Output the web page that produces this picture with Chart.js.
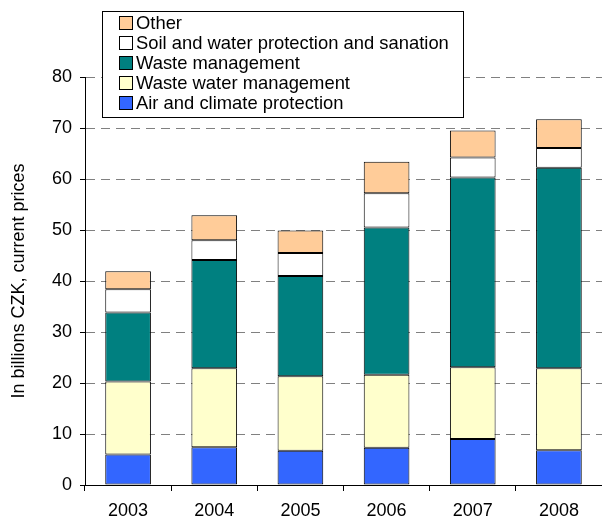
<!DOCTYPE html>
<html>
<head>
<meta charset="utf-8">
<script src="https://cdn.jsdelivr.net/npm/chart.js@4/dist/chart.umd.min.js"></script>
<style>
  html, body { margin: 0; padding: 0; background: #fff; overflow: hidden; }
  #wrap { width: 602px; height: 523px; position: relative; }
</style>
</head>
<body>
<div id="wrap"><canvas id="c"></canvas></div>
<script>
// Environmental protection expenditure by domain, billions CZK (current prices)
const years = ['2003', '2004', '2005', '2006', '2007', '2008'];
const airClimate = [6.0, 7.4, 6.7, 7.3, 9.0, 6.8];
const wasteWater = [14.3, 15.5, 14.6, 14.3, 14.1, 16.1];
const wasteMgmt  = [13.5, 21.2, 19.7, 28.9, 37.2, 39.3];
const soilWater  = [4.6, 3.9, 4.5, 6.7, 3.9, 3.9];
const other      = [3.5, 4.9, 4.4, 6.2, 5.3, 5.6];
const yTicks = [0, 10, 20, 30, 40, 50, 60, 70, 80];

const FONT = '"Liberation Sans", Arial, sans-serif';

// Boxed legend drawn inside the plot, top entry = top of the stack
const boxLegend = {
  id: 'boxLegend',
  afterDraw(chart) {
    const ctx = chart.ctx;
    const x0 = 102, y0 = 11, w = 361, h = 106;
    ctx.save();
    ctx.fillStyle = '#fff';
    ctx.fillRect(x0, y0, w, h);
    ctx.strokeStyle = '#000';
    ctx.lineWidth = 1;
    ctx.strokeRect(x0 + 0.5, y0 + 0.5, w, h);
    ctx.font = '18.4px ' + FONT;
    ctx.textBaseline = 'middle';
    ctx.textAlign = 'left';
    const items = chart.data.datasets.slice().reverse();
    items.forEach((ds, i) => {
      const cy = Math.round(22.5 + i * 20.2);
      ctx.fillStyle = ds.backgroundColor;
      ctx.fillRect(119.5, cy - 6.5, 13, 13);
      ctx.strokeStyle = '#000';
      ctx.strokeRect(119.5, cy - 6.5, 13, 13);
      ctx.fillStyle = '#000';
      ctx.fillText(ds.label, 136, cy + 1);
    });
    ctx.restore();
  }
};

const mk = (label, data, color) => ({
  label, data,
  backgroundColor: color,
  borderColor: '#000',
  borderWidth: 1,
  borderSkipped: false,
  categoryPercentage: 1.0,
  barPercentage: 0.53
});

new Chart(document.getElementById('c'), {
  type: 'bar',
  data: {
    labels: years,
    datasets: [
      mk('Air and climate protection', airClimate, '#3366FF'),
      mk('Waste water management', wasteWater, '#FFFFCC'),
      mk('Waste management', wasteMgmt, '#008080'),
      mk('Soil and water protection and sanation', soilWater, '#FFFFFF'),
      mk('Other', other, '#FFCC99')
    ]
  },
  options: {
    responsive: true,
    maintainAspectRatio: false,
    animation: false,
    layout: { padding: { top: 77, right: 0, bottom: 0, left: 0 } },
    plugins: {
      legend: { display: false },
      tooltip: { enabled: false }
    },
    scales: {
      x: {
        stacked: true,
        offset: true,
        grid: {
          display: true,
          offset: true,
          drawOnChartArea: false,
          drawTicks: true,
          tickLength: 6,
          tickColor: '#000'
        },
        border: { display: true, color: '#000', width: 1 },
        ticks: { color: '#000', font: { family: FONT, size: 18 }, padding: 9 },
        afterFit(s) { s.height = 38; }
      },
      y: {
        stacked: true,
        min: 0,
        max: 80,
        afterBuildTicks(s) { s.ticks = yTicks.map(v => ({ value: v })); },
        grid: {
          color: c => (c.tick && c.tick.value === 0) ? 'rgba(0,0,0,0)' : '#808080',
          lineWidth: 1,
          tickLength: 5,
          tickColor: '#000'
        },
        border: { display: true, color: '#000', width: 1, dash: [9, 6] },
        ticks: { color: '#000', font: { family: FONT, size: 18 }, padding: 8 },
        title: {
          display: true,
          text: 'In billions CZK, current prices',
          color: '#000',
          font: { family: FONT, size: 18 },
          padding: { top: 8, bottom: 0 }
        },
        afterFit(s) { s.width = 85; }
      }
    }
  },
  plugins: [boxLegend]
});
</script>
</body>
</html>
